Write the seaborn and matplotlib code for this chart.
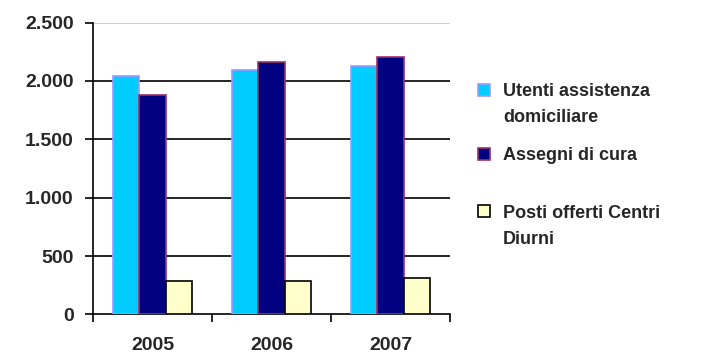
import matplotlib
matplotlib.use("Agg")
import matplotlib.pyplot as plt
import seaborn as sns
import pandas as pd
from matplotlib.ticker import FixedLocator
from matplotlib.patches import Rectangle

years = ["2005", "2006", "2007"]
series = ["Utenti assistenza domiciliare", "Assegni di cura", "Posti offerti Centri Diurni"]
legend_lines = [["Utenti assistenza", "domiciliare"], ["Assegni di cura"], ["Posti offerti Centri", "Diurni"]]
utenti = [2040, 2090, 2125]
assegni = [1883, 2160, 2208]
posti = [289, 289, 309]
yticks = [0, 500, 1000, 1500, 2000, 2500]
ytick_labels = ["0", "500", "1.000", "1.500", "2.000", "2.500"]

colors = ["#00CCFF", "#000080", "#FFFFCC"]
edges = ["#9999FF", "#993366", "#000000"]

rows = []
for s, vals in zip(series, [utenti, assegni, posti]):
    for y, v in zip(years, vals):
        rows.append({"Anno": y, "Serie": s, "Valore": v})
df = pd.DataFrame(rows)

sns.set_style("white")
plt.rcParams["font.family"] = ["Liberation Sans", "DejaVu Sans"]
plt.rcParams["font.weight"] = "bold"

W, H = 710, 354
fig = plt.figure(figsize=(W / 100, H / 100), dpi=100)
ax = fig.add_axes([0.131, 0.112, 0.503, 0.824])

sns.barplot(data=df, x="Anno", y="Valore", hue="Serie", hue_order=series,
            order=years, palette=colors, width=0.67, ax=ax, legend=False,
            saturation=1, zorder=3)

for cont, ec in zip(ax.containers, edges):
    for p in cont:
        p.set_edgecolor(ec)
        p.set_linewidth(1.2)

ax.set_ylim(0, 2500)
ax.set_xlim(-0.5, 2.5)
ax.set_yticks(yticks)
ax.set_yticklabels(ytick_labels, fontsize=14, fontweight="bold")
ax.set_xticklabels(years, fontsize=14, fontweight="bold")
ax.tick_params(axis="x", which="major", length=0, pad=16)
ax.xaxis.set_minor_locator(FixedLocator([-0.5, 0.5, 1.5, 2.5]))
ax.tick_params(axis="x", which="minor", length=6, width=1.2, color="black", direction="out", bottom=True)
ax.tick_params(axis="y", which="major", length=6, width=1.2, color="black", direction="out", left=True, pad=8)

for yv in yticks[1:]:
    ax.axhline(yv, color="black" if yv < 2500 else "#C8C8C8", lw=1.2, zorder=1)

ax.set_xlabel("")
ax.set_ylabel("")
for side in ["top", "right"]:
    ax.spines[side].set_visible(False)
for side in ["left", "bottom"]:
    ax.spines[side].set_color("black")
    ax.spines[side].set_linewidth(1.2)

# legend (manual layout, pixel positions)
entry_centers = [90, 154, 211]
line_gap = 26
sq = 12
sq_x = 478
text_x = 503
for lines, c, e, yc in zip(legend_lines, colors, edges, entry_centers):
    fig.add_artist(Rectangle(((sq_x) / W, 1 - (yc + sq / 2) / H), sq / W, sq / H,
                             facecolor=c, edgecolor=e, linewidth=1.2,
                             transform=fig.transFigure))
    for i, ln in enumerate(lines):
        fig.text(text_x / W, 1 - (yc + 6.5 + i * line_gap) / H, ln, fontsize=13,
                 fontweight="bold", ha="left", va="baseline")

fig.savefig("out.png", dpi=100)
